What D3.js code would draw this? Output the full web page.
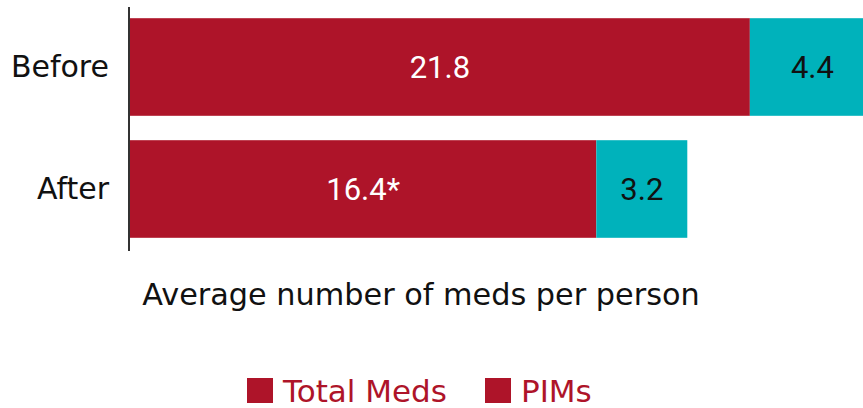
<!DOCTYPE html>
<html>
<head>
<meta charset="utf-8">
<script src="https://cdn.jsdelivr.net/npm/d3@7"></script>
<style>
  body { margin: 0; background: #fff; }
  svg { display: block; font-family: "DejaVu Sans", sans-serif; }
</style>
</head>
<body>
<svg id="chart" width="863" height="408"></svg>
<script>
const categories = ['Before', 'After'];
const totalMeds = [21.8, 16.4];
const pims = [4.4, 3.2];
const totalLabels = ['21.8', '16.4*'];
const pimLabels = ['4.4', '3.2'];
const seriesNames = ['Total Meds', 'PIMs'];

const red = '#ae1429';
const teal = '#00b2bb';

const svg = d3.select('#chart');

const x = d3.scaleLinear().domain([0, 30]).range([130, 983]);
const y = d3.scaleBand().domain(categories).range([6, 250])
    .paddingInner(0.2).paddingOuter(0.1);

const rows = categories.map((c, i) => ({
    cat: c, total: totalMeds[i], pim: pims[i],
    totalLabel: totalLabels[i], pimLabel: pimLabels[i]
}));

// total meds segment
svg.selectAll('rect.total')
    .data(rows)
    .join('rect')
    .attr('class', 'total')
    .attr('x', x(0))
    .attr('y', (d) => y(d.cat))
    .attr('width', (d) => x(d.total) - x(0))
    .attr('height', y.bandwidth())
    .attr('fill', red);

// PIMs segment stacked after
svg.selectAll('rect.pim')
    .data(rows)
    .join('rect')
    .attr('class', 'pim')
    .attr('x', (d) => x(d.total))
    .attr('y', (d) => y(d.cat))
    .attr('width', (d) => x(d.total + d.pim) - x(d.total))
    .attr('height', y.bandwidth())
    .attr('fill', teal);

svg.selectAll('text.tlab')
    .data(rows)
    .join('text')
    .attr('class', 'tlab')
    .attr('x', (d) => x(d.total / 2))
    .attr('y', (d) => y(d.cat) + y.bandwidth() / 2)
    .attr('dy', '0.36em')
    .attr('text-anchor', 'middle')
    .attr('font-family', 'Roboto, sans-serif')
    .attr('fill', '#fff')
    .attr('font-size', 31)
    .text((d) => d.totalLabel);

svg.selectAll('text.plab')
    .data(rows)
    .join('text')
    .attr('class', 'plab')
    .attr('x', (d) => x(d.total + d.pim / 2))
    .attr('y', (d) => y(d.cat) + y.bandwidth() / 2)
    .attr('dy', '0.36em')
    .attr('text-anchor', 'middle')
    .attr('font-family', 'Roboto, sans-serif')
    .attr('fill', '#111')
    .attr('font-size', 31)
    .text((d) => d.pimLabel);

// y axis: line + category names
const yAxis = svg.append('g')
    .attr('transform', `translate(${x(0) - 1},0)`)
    .call(d3.axisLeft(y).tickSize(0).tickPadding(20));
yAxis.select('.domain').attr('stroke', '#333').attr('stroke-width', 2)
    .attr('d', 'M0,7V251');
yAxis.selectAll('text')
    .attr('font-size', 30)
    .attr('font-family', '"DejaVu Sans", sans-serif')
    .attr('fill', '#111');

svg.append('text')
    .attr('x', 421)
    .attr('y', 294)
    .attr('dy', '0.36em')
    .attr('text-anchor', 'middle')
    .attr('font-size', 30.3)
    .attr('fill', '#111')
    .text('Average number of meds per person');

// legend
const legend = svg.append('g').attr('transform', 'translate(247,378)');
const legendX = [0, 238];
seriesNames.forEach((name, i) => {
    const g = legend.append('g').attr('transform', `translate(${legendX[i]},0)`);
    g.append('rect').attr('width', 26).attr('height', 25).attr('fill', red);
    g.append('text')
        .attr('x', 36)
        .attr('y', 24)
        .attr('font-size', 31)
        .attr('fill', red)
        .text(name);
});
</script>
</body>
</html>
